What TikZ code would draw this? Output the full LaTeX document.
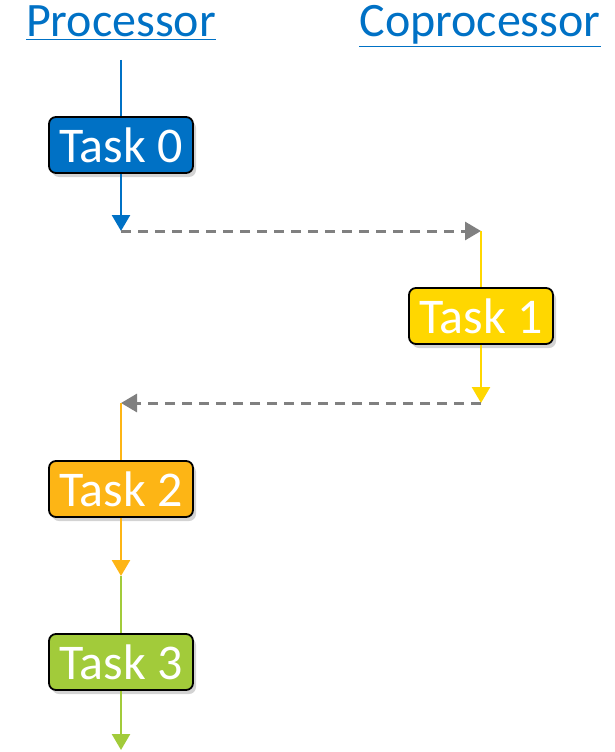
\documentclass[tikz,border=0pt]{standalone}
\usepackage{fontspec}
\setmainfont{Carlito}
\usetikzlibrary{arrows.meta,shadows}
\definecolor{procblue}{HTML}{0071C5}
\definecolor{taskblue}{HTML}{0071C5}
\definecolor{taskyellow}{HTML}{FFD700}
\definecolor{taskorange}{HTML}{FDB515}
\definecolor{taskgreen}{HTML}{A2CB3A}
\definecolor{flowgray}{HTML}{808080}

\begin{document}
\begin{tikzpicture}[x=1pt,y=-1pt]
\tikzset{task/.style = {shape=rectangle,rounded corners=7pt,draw=black,line width=1.8pt,
  text=white,minimum width=144pt,minimum height=56pt,inner sep=0pt,
  font=\fontsize{50}{54}\selectfont,drop shadow={shadow xshift=3pt,shadow yshift=-4pt,opacity=0.35}}}
\tikzset{flow/.style = {line width=2.6pt,-{Triangle[width=18pt,length=16pt]}}}
\tikzset{hand/.style = {flowgray,line width=3pt,dash pattern=on 10pt off 7pt,-{Triangle[width=18pt,length=16pt]}}}
\tikzset{head/.style = {text=procblue,anchor=base,font=\fontsize{48}{52}\selectfont}}
\useasboundingbox (0,0) rectangle (615,752);
% headings
\node[head] (proc) at (121,37) {\underline{Processor}};
\node[head] (coproc) at (480,37) {\underline{Coprocessor}};
% vertices
\node[task,fill=taskblue] (t0) at (121,145) {Task 0};
\node[task,fill=taskyellow] (t1) at (481,316) {Task 1};
\node[task,fill=taskorange] (t2) at (121,489) {Task 2};
\node[task,fill=taskgreen] (t3) at (121,662) {Task 3};
\coordinate (p0) at (121,60);
\coordinate (p1) at (121,231);
\coordinate (c1) at (481,231);
\coordinate (c2) at (481,403);
\coordinate (p2) at (121,403);
\coordinate (p3) at (121,576);
\coordinate (p4) at (121,750);
%edges
\draw[procblue,line width=2.6pt] (p0) -- (t0);
\draw[flow,procblue] (t0) -- (p1);
\draw[hand] (p1) -- (c1);
\draw[taskyellow,line width=2.6pt] (c1) -- (t1);
\draw[flow,taskyellow] (t1) -- (c2);
\draw[hand] (c2) -- (p2);
\draw[taskorange,line width=2.6pt] (p2) -- (t2);
\draw[flow,taskorange] (t2) -- (p3);
\draw[taskgreen,line width=2.6pt] (p3) -- (t3);
\draw[flow,taskgreen] (t3) -- (p4);
\end{tikzpicture}
\end{document}
